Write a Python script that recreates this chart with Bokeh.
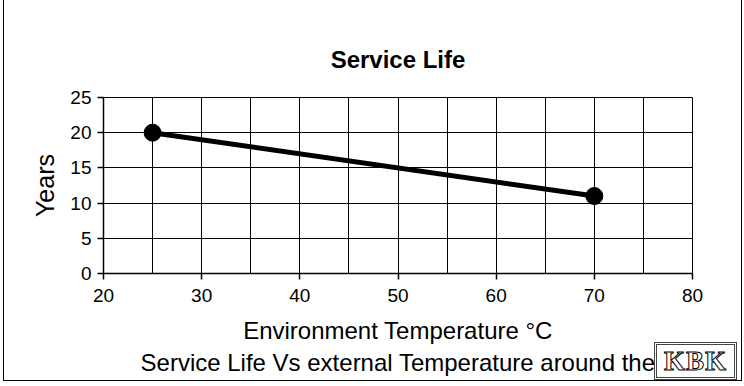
from bokeh.plotting import figure
from bokeh.layouts import column
from bokeh.models import SingleIntervalTicker, FixedTicker, Title, Range1d, Div
from bokeh.embed import file_html
from bokeh.resources import INLINE

# data
temperature = [25, 70]
years = [20, 11]
x_ticks = [20, 30, 40, 50, 60, 70, 80]
y_ticks = [0, 5, 10, 15, 20, 25]
logo_text = "KBK"

FONT = "Liberation Sans"

p = figure(width=737, height=380, output_backend="svg", toolbar_location=None,
           x_range=Range1d(20, 80), y_range=Range1d(0, 25),
           min_border_left=99, min_border_right=51, min_border_top=97, min_border_bottom=108,
           frame_width=587, frame_height=175)
p.styles = {"border-left": "1px solid black", "border-right": "1px solid black",
            "border-bottom": "1px solid black", "margin-left": "3px"}

p.title.text = "Service Life"
p.title.align = "center"
p.title.text_font = FONT
p.title.text_font_size = "24px"
p.title.text_font_style = "bold"
p.title.text_color = "black"
p.title.standoff = 50
p.title.offset = -12

p.outline_line_color = "black"
p.outline_line_width = 1

p.xaxis.ticker = FixedTicker(ticks=x_ticks)
p.yaxis.ticker = FixedTicker(ticks=y_ticks)
p.xgrid.ticker = SingleIntervalTicker(interval=5)
p.ygrid.ticker = SingleIntervalTicker(interval=5)
for g in (p.xgrid, p.ygrid):
    g.grid_line_color = "black"
    g.grid_line_width = 1
    g.grid_line_alpha = 1

for ax in (p.xaxis, p.yaxis):
    ax.axis_line_color = "black"
    ax.axis_line_width = 1.5
    ax.major_tick_line_color = "black"
    ax.major_tick_line_width = 1.5
    ax.major_tick_out = 6
    ax.major_tick_in = 0
    ax.minor_tick_line_color = None
    ax.major_label_text_font = FONT
    ax.major_label_text_font_size = "19px"
    ax.major_label_text_color = "black"
    ax.axis_label_text_font = FONT
    ax.axis_label_text_font_style = "normal"
    ax.axis_label_text_color = "black"

p.xaxis.axis_label = "Environment Temperature °C"
p.xaxis.axis_label_text_font_size = "24px"
p.xaxis.major_label_standoff = 9
p.xaxis.axis_label_standoff = 12
p.yaxis.axis_label = "Years"
p.yaxis.axis_label_text_font_size = "25px"
p.yaxis.major_label_standoff = 6
p.yaxis.axis_label_standoff = 8

sub = Title(text="Service Life Vs external Temperature around the", align="center",
            text_font=FONT, text_font_size="24px", text_font_style="normal",
            text_color="black", standoff=0)
p.add_layout(sub, "below")

p.line(temperature, years, line_color="black", line_width=5)
p.scatter(temperature, years, size=17, fill_color="black", line_color="black")

# logo box
lg = Div(text=logo_text, width=83, height=38,
         styles={"margin-top": "-39px", "margin-left": "654px",
                 "border": "3px double #444", "background": "white",
                 "box-sizing": "border-box",
                 "font-family": "Liberation Serif", "font-weight": "bold",
                 "font-size": "27px", "color": "white",
                 "-webkit-text-stroke": "1px black",
                 "text-align": "center", "line-height": "32px",
                 "letter-spacing": "1px", "overflow": "hidden"})

layout = column(p, lg, spacing=0)
open("out.html", "w").write(file_html(layout, INLINE))
